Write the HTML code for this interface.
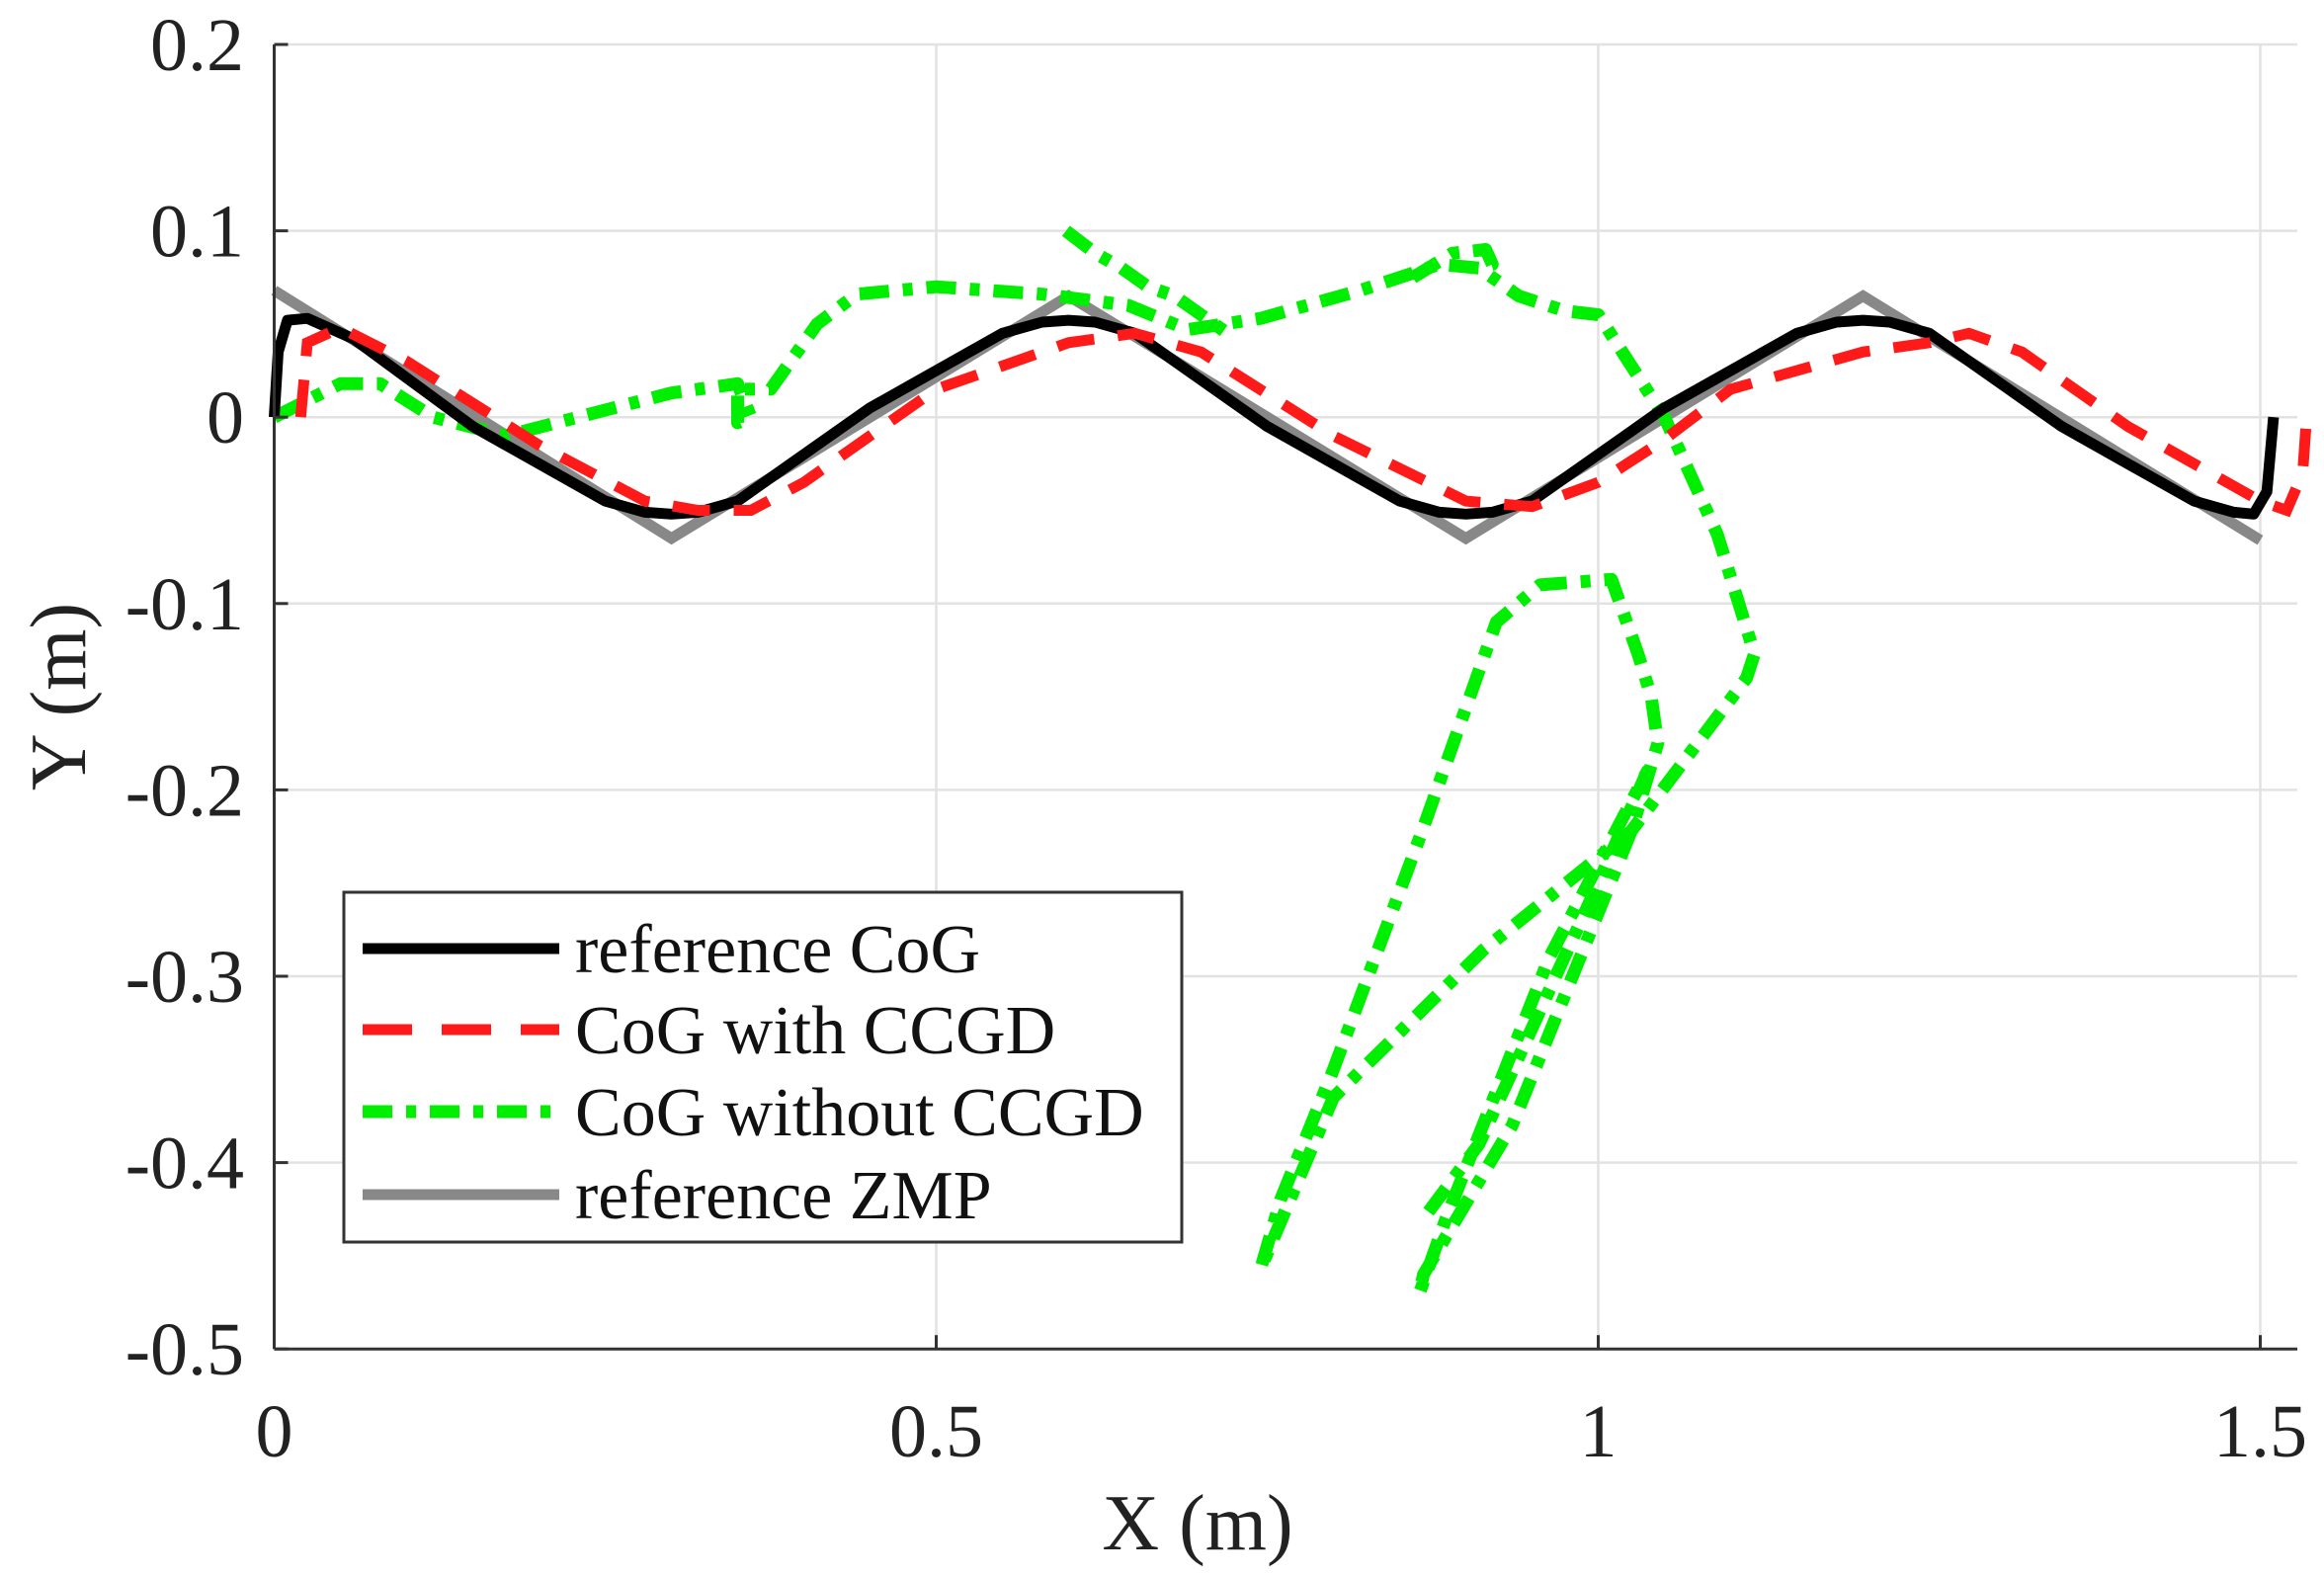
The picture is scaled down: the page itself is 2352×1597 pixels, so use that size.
<!DOCTYPE html>
<html><head><meta charset="utf-8"><style>
html,body{margin:0;padding:0;background:#fff;}
svg{display:block;font-family:"Liberation Serif",serif;}
</style></head><body>
<svg id="chart" width="2352" height="1597" viewBox="0 0 2352 1597" xmlns="http://www.w3.org/2000/svg">
<g id="grid"></g>
<g id="series"></g>
<g id="axes"></g>
<g id="legend"></g>
</svg>
<script>
const xTicks=[0,0.5,1,1.5];
const xTickLabels=["0","0.5","1","1.5"];
const yTicks=[0.2,0.1,0,-0.1,-0.2,-0.3,-0.4,-0.5];
const yTickLabels=["0.2","0.1","0","-0.1","-0.2","-0.3","-0.4","-0.5"];
const zmpX=[0,0.3,0.6,0.9,1.2,1.5];
const zmpY=[0.068,-0.065,0.065,-0.065,0.065,-0.066];
const cogX=[0,0.003,0.01,0.025,0.06,0.15,0.25,0.28,0.3,0.32,0.35,0.45,0.55,0.58,0.6,0.62,0.65,0.75,0.85,0.88,0.9,0.92,0.95,1.05,1.15,1.18,1.2,1.22,1.25,1.35,1.45,1.48,1.495,1.505,1.51];
const cogY=[0,0.035,0.052,0.053,0.042,-0.005,-0.045,-0.051,-0.052,-0.051,-0.045,0.005,0.045,0.051,0.052,0.051,0.045,-0.005,-0.045,-0.051,-0.052,-0.051,-0.045,0.005,0.045,0.051,0.052,0.051,0.045,-0.005,-0.045,-0.051,-0.052,-0.04,0];
const ccgdX=[0.02,0.025,0.05,0.1,0.2,0.28,0.32,0.36,0.4,0.5,0.6,0.65,0.7,0.8,0.9,0.95,1.0,1.05,1.1,1.2,1.25,1.28,1.32,1.4,1.5,1.52,1.532,1.535];
const ccgdY=[0,0.04,0.048,0.03,-0.015,-0.045,-0.05,-0.05,-0.035,0.015,0.04,0.045,0.035,-0.01,-0.045,-0.048,-0.035,-0.012,0.015,0.035,0.04,0.045,0.035,-0.005,-0.045,-0.05,-0.03,0];
const woX=[0,0.05,0.08,0.12,0.175,0.3,0.35,0.36,0.35,0.35,0.375,0.39,0.41,0.44,0.5,0.58,0.645,0.69,0.745,0.82,0.88,0.91,0.94,0.975,1.0,1.05,1.09,1.118,1.112,1.025,0.913,0.8,0.745,0.76,0.8,0.867,0.923,0.956,1.01,1.03,1.04,1.045,1.025,0.935,0.868,0.865,0.885,0.963,1.037,1.0,0.91,0.868];
const woY=[0,0.018,0.018,0,-0.01,0.013,0.018,0,-0.003,0.015,0.015,0.03,0.05,0.066,0.07,0.066,0.06,0.047,0.053,0.068,0.082,0.08,0.065,0.057,0.055,0,-0.063,-0.127,-0.14,-0.222,-0.286,-0.365,-0.457,-0.42,-0.35,-0.222,-0.11,-0.09,-0.087,-0.127,-0.15,-0.175,-0.222,-0.38,-0.46,-0.47,-0.43,-0.29,-0.19,-0.25,-0.39,-0.43];
const wo2X=[0.598,0.62,0.64,0.66,0.68,0.7,0.72];
const wo2Y=[0.1,0.088,0.08,0.07,0.065,0.055,0.045];
const wo3X=[0.86,0.89,0.915,0.92,0.91];
const wo3Y=[0.075,0.088,0.09,0.082,0.08];

const X0=277.5,XS=1340,YT=45,YS=1886;
const sx=v=>X0+v*XS, sy=v=>YT+(0.2-v)*YS;
const NS="http://www.w3.org/2000/svg";
function mk(tag,attrs,parent){const e=document.createElementNS(NS,tag);for(const k in attrs)e.setAttribute(k,attrs[k]);parent.appendChild(e);return e;}
const grid=document.getElementById('grid'),axes=document.getElementById('axes'),ser=document.getElementById('series'),leg=document.getElementById('legend');
const xR=2325,yB=sy(-0.5);
xTicks.forEach((t,i)=>{
 const l=mk('line',{x1:sx(t),x2:sx(t),y1:YT,y2:yB,stroke:'#e2e2e2','stroke-width':2.5},grid);
 
 
 const tk=mk('line',{x1:sx(t),x2:sx(t),y1:yB,y2:yB-14,stroke:'#333','stroke-width':3},axes);
 
 
 const tx=mk('text',{x:sx(t),y:1474,'font-size':76,'text-anchor':'middle',fill:'#222'},axes);
 tx.textContent=xTickLabels[i];
 
 
});
yTicks.forEach((t,i)=>{
 const l=mk('line',{x1:X0,x2:xR,y1:sy(t),y2:sy(t),stroke:'#e2e2e2','stroke-width':2.5},grid);
 
 
 const tk=mk('line',{x1:X0,x2:X0+14,y1:sy(t),y2:sy(t),stroke:'#333','stroke-width':3},axes);
 
 
 const tx=mk('text',{x:247,y:sy(t)+26,'font-size':76,'text-anchor':'end',fill:'#222'},axes);
 tx.textContent=yTickLabels[i];
 
 
});
const ax1=mk('line',{x1:X0,x2:X0,y1:YT,y2:yB,stroke:'#333','stroke-width':3},axes);


const ax2=mk('line',{x1:X0,x2:xR,y1:yB,y2:yB,stroke:'#333','stroke-width':3},axes);


const xt=mk('text',{x:1212,y:1568,'font-size':80,'text-anchor':'middle',fill:'#222'},axes);
xt.textContent='X (m)';


const yt=mk('text',{x:0,y:0,'font-size':80,'text-anchor':'middle',fill:'#222',transform:'translate(86,705) rotate(-90)'},axes);
yt.textContent='Y (m)';



function path(xs,ys){return xs.map((x,i)=>(i?'L':'M')+sx(x).toFixed(1)+','+sy(ys[i]).toFixed(1)).join(' ');}
const st={
 zmp:{stroke:'#888','stroke-width':11,fill:'none','stroke-linejoin':'miter'},
 cog:{stroke:'#000','stroke-width':11,fill:'none','stroke-linejoin':'round'},
 ccgd:{stroke:'#ff1a1a','stroke-width':11,fill:'none','stroke-dasharray':'38 24'},
 wo:{stroke:'#00ee00','stroke-width':13,fill:'none','stroke-dasharray':'30 14 10 14','stroke-linejoin':'round'}
};
let p;
p=mk('path',Object.assign({d:path(zmpX,zmpY)},st.zmp),ser);


p=mk('path',Object.assign({d:path(woX,woY)},st.wo),ser);


p=mk('path',Object.assign({d:path(wo2X,wo2Y)},st.wo),ser);


p=mk('path',Object.assign({d:path(wo3X,wo3Y)},st.wo),ser);


p=mk('path',Object.assign({d:path(cogX,cogY)},st.cog),ser);


p=mk('path',Object.assign({d:path(ccgdX,ccgdY)},st.ccgd),ser);



const box=mk('rect',{x:348,y:903,width:848,height:354,fill:'#fff',stroke:'#333','stroke-width':3},leg);


const names=['reference CoG','CoG with CCGD','CoG without CCGD','reference ZMP'];
const keys=['cog','ccgd','wo','zmp'];
const ly=[960,1042,1125,1209];
names.forEach((n,i)=>{
 const a=Object.assign({x1:367,x2:566,y1:ly[i],y2:ly[i]},st[keys[i]]);
 if(keys[i]==='ccgd')a['stroke-dasharray']='50 30';
 const l=mk('line',a,leg);
 
 
 const t=mk('text',{x:582,y:ly[i]+24,'font-size':70,fill:'#111'},leg);
 t.textContent=n;
 
 
});
</script>
</body></html>
